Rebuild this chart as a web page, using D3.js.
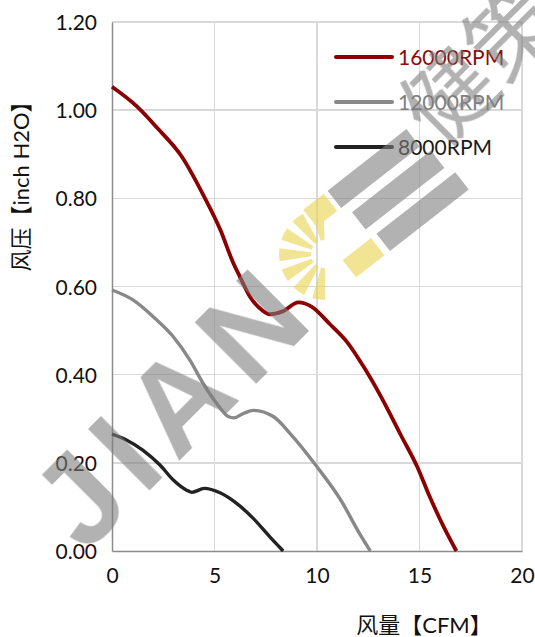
<!DOCTYPE html>
<html lang="zh">
<head>
<meta charset="utf-8">
<title>风压-风量曲线</title>
<script src="https://cdn.jsdelivr.net/npm/d3@7"></script>
<style>
  body { margin: 0; background: #fff; }
  svg text { font-family: Lato, "Noto Sans", sans-serif; }
  .grid line { stroke: #d9d9d9; stroke-width: 1.5; shape-rendering: crispEdges; }
  .cjk { font-family: Lato, "Noto Sans CJK SC", sans-serif; }
</style>
</head>
<body>
<script>
// chart values
var xTicks = [0, 5, 10, 15, 20];
var yTicks = [0, 0.2, 0.4, 0.6, 0.8, 1.0, 1.2];

var seriesNames = ["16000RPM", "12000RPM", "8000RPM"];
var seriesColors = ["#8b0000", "#888888", "#222222"];
var legendColors = ["#8b0a0a", "#808080", "#1a1a1a"];

var rpm16000X = [0, 1.2, 2.2, 3.4, 4.45, 5.3, 5.9, 6.24, 6.73, 7.3, 7.7, 8.3, 9.1, 9.75, 10.6, 11.45, 12.3, 13.1, 14.1, 14.9, 15.5, 16.2, 16.8];
var rpm16000Y = [1.053, 1.009, 0.96, 0.895, 0.808, 0.727, 0.655, 0.622, 0.577, 0.547, 0.537, 0.543, 0.564, 0.554, 0.516, 0.475, 0.416, 0.352, 0.262, 0.19, 0.123, 0.053, 0];

var rpm12000X = [0, 1.04, 2.02, 2.99, 3.8, 4.45, 5.1, 5.67, 5.95, 6.41, 6.9, 7.87, 8.68, 10.0, 11.18, 12.02, 12.6];
var rpm12000Y = [0.592, 0.569, 0.531, 0.486, 0.433, 0.38, 0.335, 0.305, 0.302, 0.312, 0.319, 0.305, 0.267, 0.191, 0.114, 0.044, 0];

var rpm8000X = [0, 0.7, 1.5, 2.34, 2.99, 3.64, 3.9, 4.5, 5.27, 6.08, 6.89, 7.7, 8.35];
var rpm8000Y = [0.265, 0.252, 0.229, 0.195, 0.161, 0.138, 0.133, 0.142, 0.132, 0.108, 0.074, 0.032, 0];

var w = 535, h = 637;
var plotLeft = 112, plotTop = 22, plotRight = 522, plotBottom = 551;

var svg = d3.select("body").append("svg")
    .attr("width", w)
    .attr("height", h);

var xScale = d3.scaleLinear().domain([0, 20]).range([plotLeft, plotRight]);
var yScale = d3.scaleLinear().domain([0, 1.2]).range([plotBottom, plotTop]);

// grid
var grid = svg.append("g").attr("class", "grid");
grid.selectAll("line.h")
    .data(yTicks.filter(function(d) { return d > 0; }))
    .enter().append("line")
    .attr("class", "h")
    .attr("x1", plotLeft).attr("x2", plotRight)
    .attr("y1", function(d) { return yScale(d); })
    .attr("y2", function(d) { return yScale(d); });
grid.selectAll("line.v")
    .data(xTicks.filter(function(d) { return d > 0; }))
    .enter().append("line")
    .attr("class", "v")
    .attr("y1", plotTop).attr("y2", plotBottom)
    .attr("x1", function(d) { return xScale(d); })
    .attr("x2", function(d) { return xScale(d); });

// axes
var xAxis = d3.axisBottom(xScale).tickValues(xTicks).tickSize(0).tickPadding(17)
    .tickFormat(d3.format("d"));
var yAxis = d3.axisLeft(yScale).tickValues(yTicks).tickSize(0).tickPadding(15)
    .tickFormat(d3.format(".2f"));

var gx = svg.append("g")
    .attr("transform", "translate(0," + plotBottom + ")")
    .call(xAxis);
var gy = svg.append("g")
    .attr("transform", "translate(" + plotLeft + ",0)")
    .call(yAxis);

[gx, gy].forEach(function(g) {
  g.select(".domain").attr("stroke", "#8c8c8c").attr("stroke-width", 1.5);
  g.selectAll("text")
    .style("font-family", "Lato, sans-serif")
    .style("font-size", "21px")
    .attr("fill", "#111");
});
gy.selectAll("text").attr("dy", "0.36em");

// curves
var series = [
  { xs: rpm16000X, ys: rpm16000Y },
  { xs: rpm12000X, ys: rpm12000Y },
  { xs: rpm8000X, ys: rpm8000Y }
];

var line = d3.line()
    .x(function(d) { return xScale(d[0]); })
    .y(function(d) { return yScale(d[1]); })
    .curve(d3.curveMonotoneX);

series.forEach(function(s, i) {
  svg.append("path")
    .datum(d3.zip(s.xs, s.ys))
    .attr("fill", "none")
    .attr("stroke", seriesColors[i])
    .attr("stroke-width", i == 0 ? 3.8 : 3.4)
    .attr("stroke-linejoin", "round")
    .attr("d", line);
});

// legend
var legend = svg.append("g").attr("transform", "translate(336,57)");
seriesNames.forEach(function(name, i) {
  var row = legend.append("g").attr("transform", "translate(0," + (i * 45) + ")");
  row.append("line")
    .attr("x1", 0).attr("x2", 56)
    .attr("stroke", seriesColors[i])
    .attr("stroke-width", 4)
    .attr("stroke-linecap", "round");
  row.append("text")
    .attr("x", 62).attr("y", 8)
    .style("font-size", "21px")
    .attr("fill", legendColors[i])
    .text(name);
});

// axis titles
svg.append("text")
    .attr("class", "cjk")
    .attr("x", 424).attr("y", 633)
    .attr("text-anchor", "middle")
    .style("font-size", "22px")
    .attr("fill", "#111")
    .text("风量【CFM】");

svg.append("text")
    .attr("class", "cjk")
    .attr("transform", "translate(29,181) rotate(-90)")
    .attr("text-anchor", "middle")
    .style("font-size", "22px")
    .attr("fill", "#111")
    .text("风压【inch H2O】");

// watermark (rough copy of the logo)
var wm = svg.append("g").attr("opacity", 0.6).style("pointer-events", "none");
wm.append("text")
    .attr("transform", "translate(85,555) rotate(-45)")
    .style("font-family", "'Liberation Sans', sans-serif")
    .style("font-weight", "bold")
    .style("font-size", "127px")
    .style("letter-spacing", "12px")
    .attr("fill", "#7f7f7f")
    .text("JIAN");

var bars = wm.append("g").attr("transform", "translate(392,200) rotate(-38)");
[-36, -4, 28].forEach(function(dy, i) {
  bars.append("rect")
    .attr("x", -45 + i * 6).attr("y", dy - 11)
    .attr("width", 100).attr("height", 22)
    .attr("fill", "#7f7f7f");
});
// yellow blocks in line with the first and last bar
bars.append("rect")
  .attr("x", -76).attr("y", -47).attr("width", 26).attr("height", 22)
  .attr("fill", "#e8d44d");
bars.append("rect")
  .attr("x", -76).attr("y", 17).attr("width", 36).attr("height", 22)
  .attr("fill", "#e8d44d");

var rays = wm.append("g").attr("transform", "translate(325,254)");
var arc = d3.arc().innerRadius(14).outerRadius(46);
d3.range(7).forEach(function(i) {
  var a0 = Math.PI * (1.0 + i * 0.15);
  rays.append("path")
    .attr("d", arc({ startAngle: a0, endAngle: a0 + 0.09 * Math.PI }))
    .attr("fill", "#e8d44d");
});

wm.append("text")
    .attr("class", "cjk")
    .attr("transform", "translate(440,150) rotate(-45)")
    .style("font-size", "90px")
    .attr("fill", "#7f7f7f")
    .text("健策");
</script>
</body>
</html>
